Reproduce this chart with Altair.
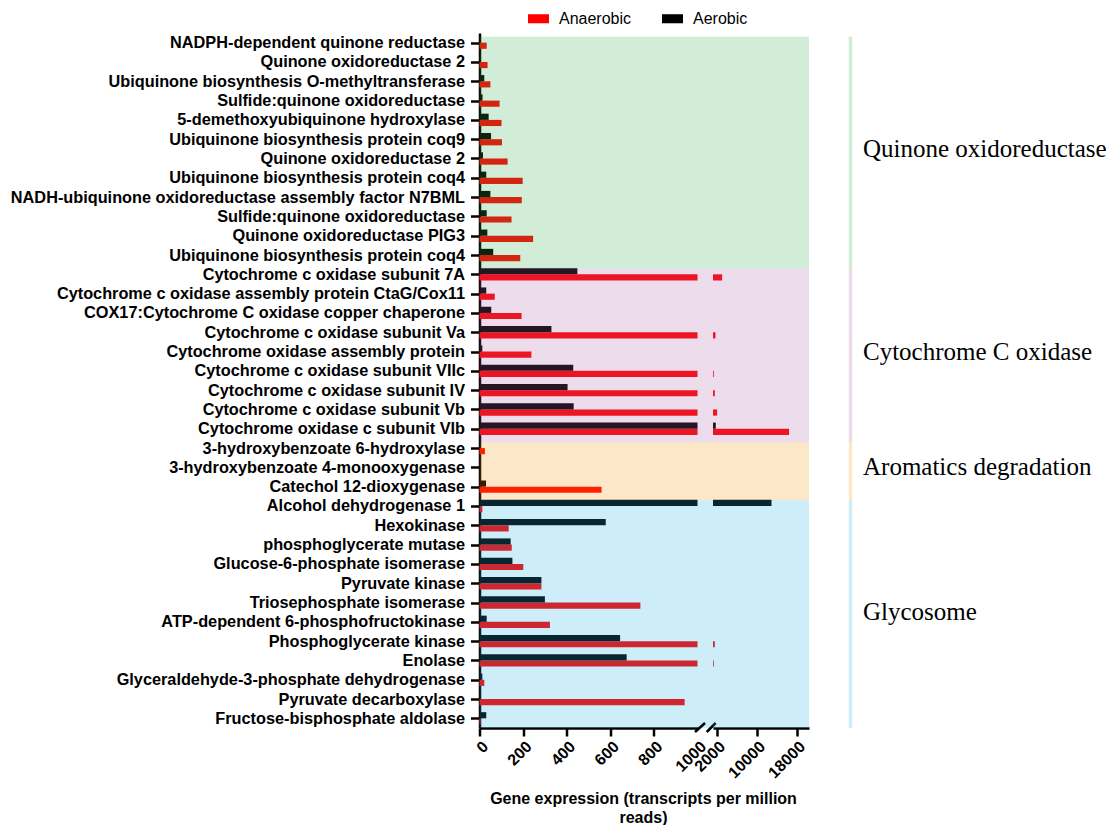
import json
import altair as alt
import pandas as pd

# ---------------- data ----------------
names = [
    "NADPH-dependent quinone reductase",
    "Quinone oxidoreductase 2",
    "Ubiquinone biosynthesis O-methyltransferase",
    "Sulfide:quinone oxidoreductase",
    "5-demethoxyubiquinone hydroxylase",
    "Ubiquinone biosynthesis protein coq9",
    "Quinone oxidoreductase 2",
    "Ubiquinone biosynthesis protein coq4",
    "NADH-ubiquinone oxidoreductase assembly factor N7BML",
    "Sulfide:quinone oxidoreductase",
    "Quinone oxidoreductase PIG3",
    "Ubiquinone biosynthesis protein coq4",
    "Cytochrome c oxidase subunit 7A",
    "Cytochrome c oxidase assembly protein CtaG/Cox11",
    "COX17:Cytochrome C oxidase copper chaperone",
    "Cytochrome c oxidase subunit Va",
    "Cytochrome oxidase assembly protein",
    "Cytochrome c oxidase subunit VIIc",
    "Cytochrome c oxidase subunit IV",
    "Cytochrome c oxidase subunit Vb",
    "Cytochrome oxidase c subunit VIb",
    "3-hydroxybenzoate 6-hydroxylase",
    "3-hydroxybenzoate 4-monooxygenase",
    "Catechol 12-dioxygenase",
    "Alcohol dehydrogenase 1",
    "Hexokinase",
    "phosphoglycerate mutase",
    "Glucose-6-phosphate isomerase",
    "Pyruvate kinase",
    "Triosephosphate isomerase",
    "ATP-dependent 6-phosphofructokinase",
    "Phosphoglycerate kinase",
    "Enolase",
    "Glyceraldehyde-3-phosphate dehydrogenase",
    "Pyruvate decarboxylase",
    "Fructose-bisphosphate aldolase",
]

anaerobic = [33, 37, 50, 92, 101, 103, 129, 198, 194, 147, 246, 187,
             3120, 70, 193, 1800, 238, 1460, 1660, 2130, 16520,
             25, 0, 560,
             13, 134, 148, 201, 284, 738, 323, 1660, 1460, 22, 941, 5]

aerobic = [2, 5, 22, 14, 42, 53, 16, 31, 50, 33, 36, 63,
           449, 31, 54, 330, 13, 430, 404, 432, 1860,
           3, 0, 30,
           13000, 579, 143, 151, 284, 300, 33, 645, 675, 13, 7, 31]

series = ["Anaerobic", "Aerobic"]
series_colors = ["#FF0000", "#000000"]

group_names = ["Quinone oxidoreductase", "Cytochrome C oxidase",
               "Aromatics degradation", "Glycosome"]
group_sizes = [12, 9, 3, 12]
# translucent tints laid over the bars (they give the pale panel colours)
group_colors = ["rgba(50,173,73,0.22)", "rgba(173,96,164,0.22)",
                "rgba(241,150,5,0.22)", "rgba(28,178,223,0.22)"]

left_ticks = [0, 200, 400, 600, 800, 1000]
right_ticks = [2000, 10000, 18000]

# ---------------- tables ----------------
n = len(names)
rows = []
for i in range(n):
    rows.append({"row": i, "series": "Anaerobic", "value": anaerobic[i]})
    rows.append({"row": i, "series": "Aerobic", "value": aerobic[i]})
bars = pd.DataFrame(rows)

grows = []
start = 0
for gname, gsize, gcol in zip(group_names, group_sizes, group_colors):
    end = start + gsize - 1
    grows.append({"group": gname, "top": start - 0.3,
                  "bottom": min(end + 0.7, n - 0.5),
                  "mid": (start + end) / 2, "gcolor": gcol})
    start = end + 1
groups = pd.DataFrame(grows)

# ---------------- layout ----------------
WL = 218
WR = 96
GAP = 15.5
H = 695
BREAK = 1300

yscale = alt.Scale(domain=[-0.5, n - 0.5], reverse=True, nice=False, zero=False)
yaxis = alt.Axis(values=list(range(n)), labelExpr=json.dumps(names) + "[datum.value]",
                 title=None, tickSize=9, labelPadding=6, labelLimit=700,
                 labelFontSize=16.3)

color = alt.Color("series:N",
                  scale=alt.Scale(domain=series, range=series_colors),
                  legend=alt.Legend(orient="none", legendX=48.5, legendY=-25,
                                    direction="horizontal", title=None,
                                    symbolType="M-1,-0.43H1V0.43H-1Z",
                                    symbolSize=441, symbolStrokeWidth=0,
                                    symbolOpacity=1,
                                    labelFont="Liberation Sans", labelFontSize=16,
                                    labelColor="black", labelFontWeight="normal",
                                    columnPadding=30, labelOffset=10))

bar_base = alt.Chart(bars).transform_calculate(
    y0="datum.series == 'Aerobic' ? datum.row - 0.32 : datum.row",
    y1="datum.series == 'Aerobic' ? datum.row : datum.row + 0.32",
    lv="min(datum.value, 1000)",
    zero="0",
    brk=str(BREAK),
)

left_x = alt.Scale(domain=[0, 1000], nice=False, zero=True)
left_bars = bar_base.mark_rect().encode(
    x=alt.X("lv:Q", scale=left_x,
            axis=alt.Axis(values=left_ticks, labelAngle=-45, tickSize=8, format="d",
                          labelOverlap=False,
                          tickOpacity={"condition": {"test": "datum.value == 1000", "value": 0}, "value": 1},
                          title=["Gene expression (transcripts per million", "reads)"],
                          titleX=163.5, titleY=62, titleBaseline="top",
                          titleLineHeight=19, titleAlign="center")),
    x2="zero:Q",
    y=alt.Y("y0:Q", scale=yscale, axis=yaxis),
    y2="y1:Q",
    color=color,
)

left_bands = alt.Chart(groups).mark_rect(clip=False).encode(
    x=alt.value(0), x2=alt.value(WL + GAP),
    y=alt.Y("top:Q", scale=yscale, axis=yaxis), y2="bottom:Q",
    fill=alt.Fill("gcolor:N", scale=None),
)

dummy = pd.DataFrame({"k": [0]})
slash1 = alt.Chart(dummy).mark_rule(strokeWidth=2.5, color="black", clip=False).encode(
    x=alt.value(215.5), x2=alt.value(225.5), y=alt.value(H + 4), y2=alt.value(H - 5))
slash2 = alt.Chart(dummy).mark_rule(strokeWidth=2.5, color="black", clip=False).encode(
    x=alt.value(227.2), x2=alt.value(236.2), y=alt.value(H + 4), y2=alt.value(H - 5))

left = alt.layer(left_bars, left_bands, slash1, slash2).properties(width=WL, height=H)

right_x = alt.Scale(domain=[BREAK, 20500], nice=False, zero=False)
right_bars = bar_base.transform_filter(f"datum.value > {BREAK}").mark_rect().encode(
    x=alt.X("value:Q", scale=right_x,
            axis=alt.Axis(values=right_ticks, labelAngle=-45, tickSize=8, title=None,
                          format="d", labelOverlap=False)),
    x2="brk:Q",
    y=alt.Y("y0:Q", scale=yscale, axis=None),
    y2="y1:Q",
    color=color,
)
right_bands = alt.Chart(groups).mark_rect().encode(
    x=alt.value(0), x2=alt.value(WR),
    y=alt.Y("top:Q", scale=yscale, axis=None), y2="bottom:Q",
    fill=alt.Fill("gcolor:N", scale=None),
)
group_lines = alt.Chart(groups).mark_rule(strokeWidth=3.5, clip=False).encode(
    x=alt.value(137.5),
    y=alt.Y("top:Q", scale=yscale, axis=None), y2="bottom:Q",
    stroke=alt.Stroke("gcolor:N", scale=None),
)
group_text = alt.Chart(groups).mark_text(align="left", baseline="middle",
                                         font="Liberation Serif", fontSize=25,
                                         color="black", clip=False).encode(
    x=alt.value(150),
    y=alt.Y("mid:Q", scale=yscale, axis=None),
    text="group:N",
)

right = alt.layer(right_bars, right_bands, group_lines, group_text).properties(width=WR, height=H)

chart = alt.hconcat(left, right, spacing=GAP, bounds="flush").properties(
    padding={"left": 1.5, "top": 0, "right": 0, "bottom": 0}
).configure_view(stroke=None).configure_axis(
    domainColor="black", tickColor="black", labelColor="black", titleColor="black",
    labelFont="Liberation Sans", titleFont="Liberation Sans",
    labelFontWeight="bold", titleFontWeight="bold",
    labelFontSize=16, titleFontSize=16,
    domainWidth=2.5, tickWidth=2.5, grid=False, zindex=1,
)

chart.save("out.html", embed_options={"renderer": "svg", "actions": False})
